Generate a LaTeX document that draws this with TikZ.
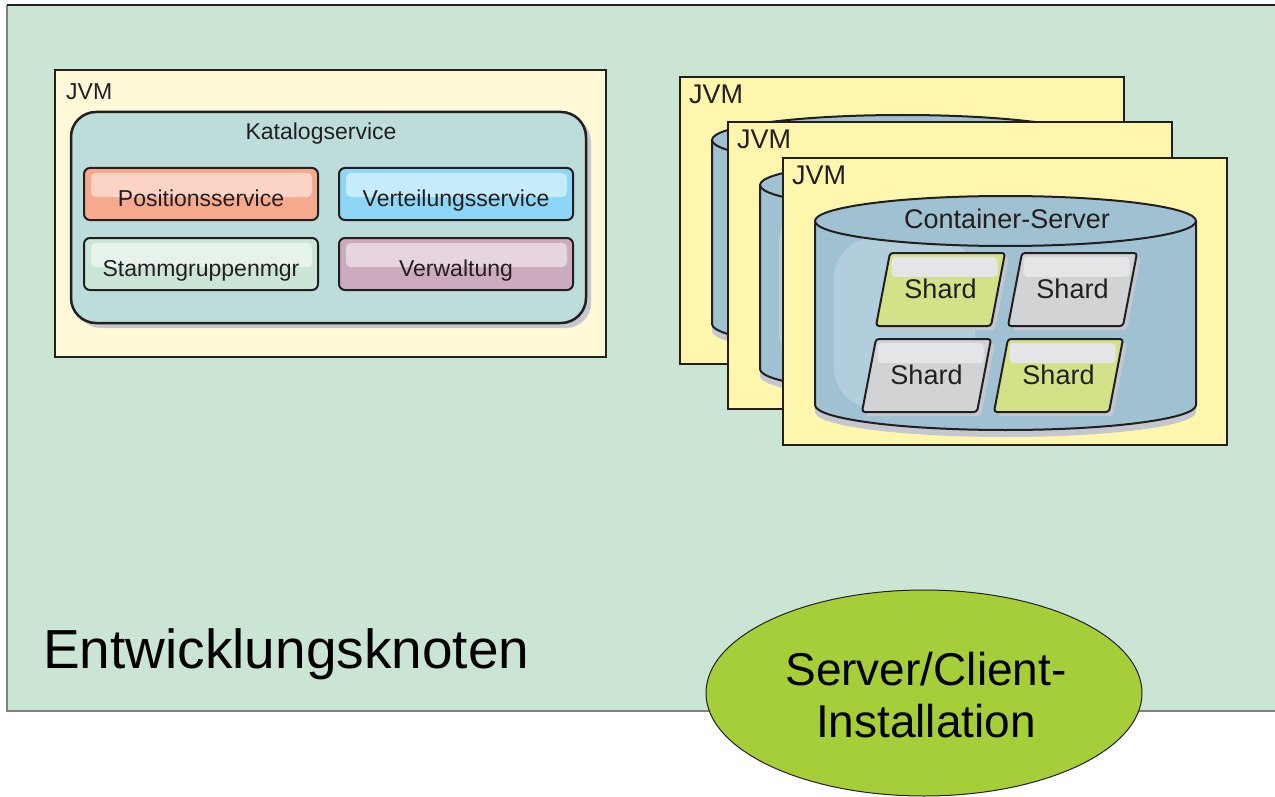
\documentclass[tikz,border=0pt]{standalone}
\usepackage{fontspec}
\setmainfont{Liberation Sans}
\usetikzlibrary{shapes.geometric}
\definecolor{cnode}{RGB}{203,229,213}
\definecolor{cedge}{RGB}{128,128,128}
\definecolor{ctext}{RGB}{35,31,32}
\definecolor{cjvm}{RGB}{255,249,216}
\definecolor{cjvmb}{RGB}{255,246,174}
\definecolor{ccat}{RGB}{188,221,218}
\definecolor{cpos}{RGB}{247,169,142}
\definecolor{cdist}{RGB}{141,214,245}
\definecolor{cgrp}{RGB}{203,230,214}
\definecolor{cadm}{RGB}{205,171,190}
\definecolor{ccyl}{RGB}{159,193,210}
\definecolor{cshg}{RGB}{211,226,137}
\definecolor{cshx}{RGB}{210,211,213}
\definecolor{cshh}{RGB}{228,229,231}
\definecolor{cshadow}{RGB}{196,199,208}
\definecolor{cinst}{RGB}{166,206,57}
\newcommand{\sizesvc}{\fontsize{23}{27}\selectfont}
\newcommand{\sizebig}{\fontsize{27}{32}\selectfont}
\newcommand{\sizeinst}{\fontsize{46}{52}\selectfont}
\newcommand{\sizehuge}{\fontsize{55}{62}\selectfont}
\tikzset{px/.style={x=1pt,y=-1pt},
  label/.style={inner sep=0pt,anchor=base,text=ctext},
  jvmbox/.style={draw=ctext,line width=2pt},
  svcbox/.style={draw=ctext,line width=2pt,rounded corners=6pt},
  cylline/.style={draw=ctext,line width=2pt},
  shardbox/.style={draw=ctext,line width=2pt,rounded corners=3pt}}

\begin{document}
\begin{tikzpicture}[px]
    \useasboundingbox (0,0) rectangle (1275,797);
    \fill[cnode] (7,5) rectangle (1290,711);
    \draw[cedge,line width=1.5pt] (7,5) -- (7,711) -- (1290,711);
    \draw[ctext,line width=1.5pt] (7,5) -- (1290,5);
    % Katalogservice-JVM
    \draw[jvmbox,fill=cjvm] (55,70) rectangle (606,357);
    \node[label,font=\sizesvc,anchor=base west] (jvm0) at (66,100) {JVM};
    \fill[cshadow,rounded corners=25pt] (76,117) rectangle (591,328);
    \draw[svcbox,line width=2.5pt,rounded corners=25pt,fill=ccat] (71,112) rectangle (586,323);
    \node[label,font=\sizesvc] (cat) at (321,140) {Katalogservice};
    \foreach \x/\y/\c/\t/\n in {84/168/cpos/Positionsservice/pos,339/168/cdist/Verteilungsservice/dist,
        84/238/cgrp/Stammgruppenmgr/grp,339/238/cadm/Verwaltung/adm}{
      \draw[svcbox,fill=\c] (\x,\y) rectangle ++(234,52);
      \fill[\c!50!white,rounded corners=5pt] (\x+7,\y+5) rectangle ++(221,24);
      \node[label,font=\sizesvc] (\n) at (\x+117,\y+38.5) {\t};
    }
    % Container-JVMs
    \foreach \i/\dx/\dy in {1/680/77,2/728/122,3/783/158}{
      \begin{scope}[shift={(\dx,\dy)}]
        \draw[jvmbox,fill=cjvmb] (0,0) rectangle (444,287);
        \node[label,font=\sizebig,anchor=base west] (jvm\i) at (9,27) {JVM};
        \fill[cshadow,yshift=-7pt] (32,63) -- (32,247) arc[start angle=180,end angle=360,x radius=190.5pt,y radius=25pt]
          -- (413,63) -- cycle;
        \fill[ccyl] (32,63) -- (32,247) arc[start angle=180,end angle=360,x radius=190.5pt,y radius=25pt]
          -- (413,63) -- cycle;
        \fill[white,opacity=0.2,rounded corners=40pt] (51,80) rectangle (192,250);
        \draw[cylline] (32,63) -- (32,247) arc[start angle=180,end angle=360,x radius=190.5pt,y radius=25pt]
          -- (413,63);
        \draw[cylline,fill=ccyl] (222.5,63) ellipse[x radius=190.5pt,y radius=25pt];
      \end{scope}
    }
    \node[label,font=\sizebig] (cont) at (1007,228) {Container-Server};
    \foreach \x/\y/\c/\n in {890/253/cshg/s1,1022/253/cshx/s2,876/339/cshx/s3,1008/339/cshg/s4}{
      \fill[cshadow,rounded corners=3pt] (\x+4,\y+4) -- ++(115,0) -- ++(-14,73) -- ++(-115,0) -- cycle;
      \draw[shardbox,fill=\c] (\x,\y) -- ++(115,0) -- ++(-14,73) -- ++(-115,0) -- cycle;
      \fill[cshh,rounded corners=4pt] (\x+1.5,\y+4) rectangle ++(106,20);
      \node[label,font=\sizebig] (\n) at (\x+50.5,\y+45.5) {Shard};
    }
    % Knoten und Installation
    \node[inner sep=0pt,anchor=base west,font=\sizehuge] (dev) at (43,668) {Entwicklungsknoten};
    \node[ellipse,draw=ctext,line width=1pt,fill=cinst,minimum width=436pt,minimum height=206pt] (inst) at (924,693) {};
    \node[inner sep=0pt,anchor=base,align=center,font=\sizeinst] (instlabel) at (926,737) {Server/Client-\\Installation};
\end{tikzpicture}
\end{document}
